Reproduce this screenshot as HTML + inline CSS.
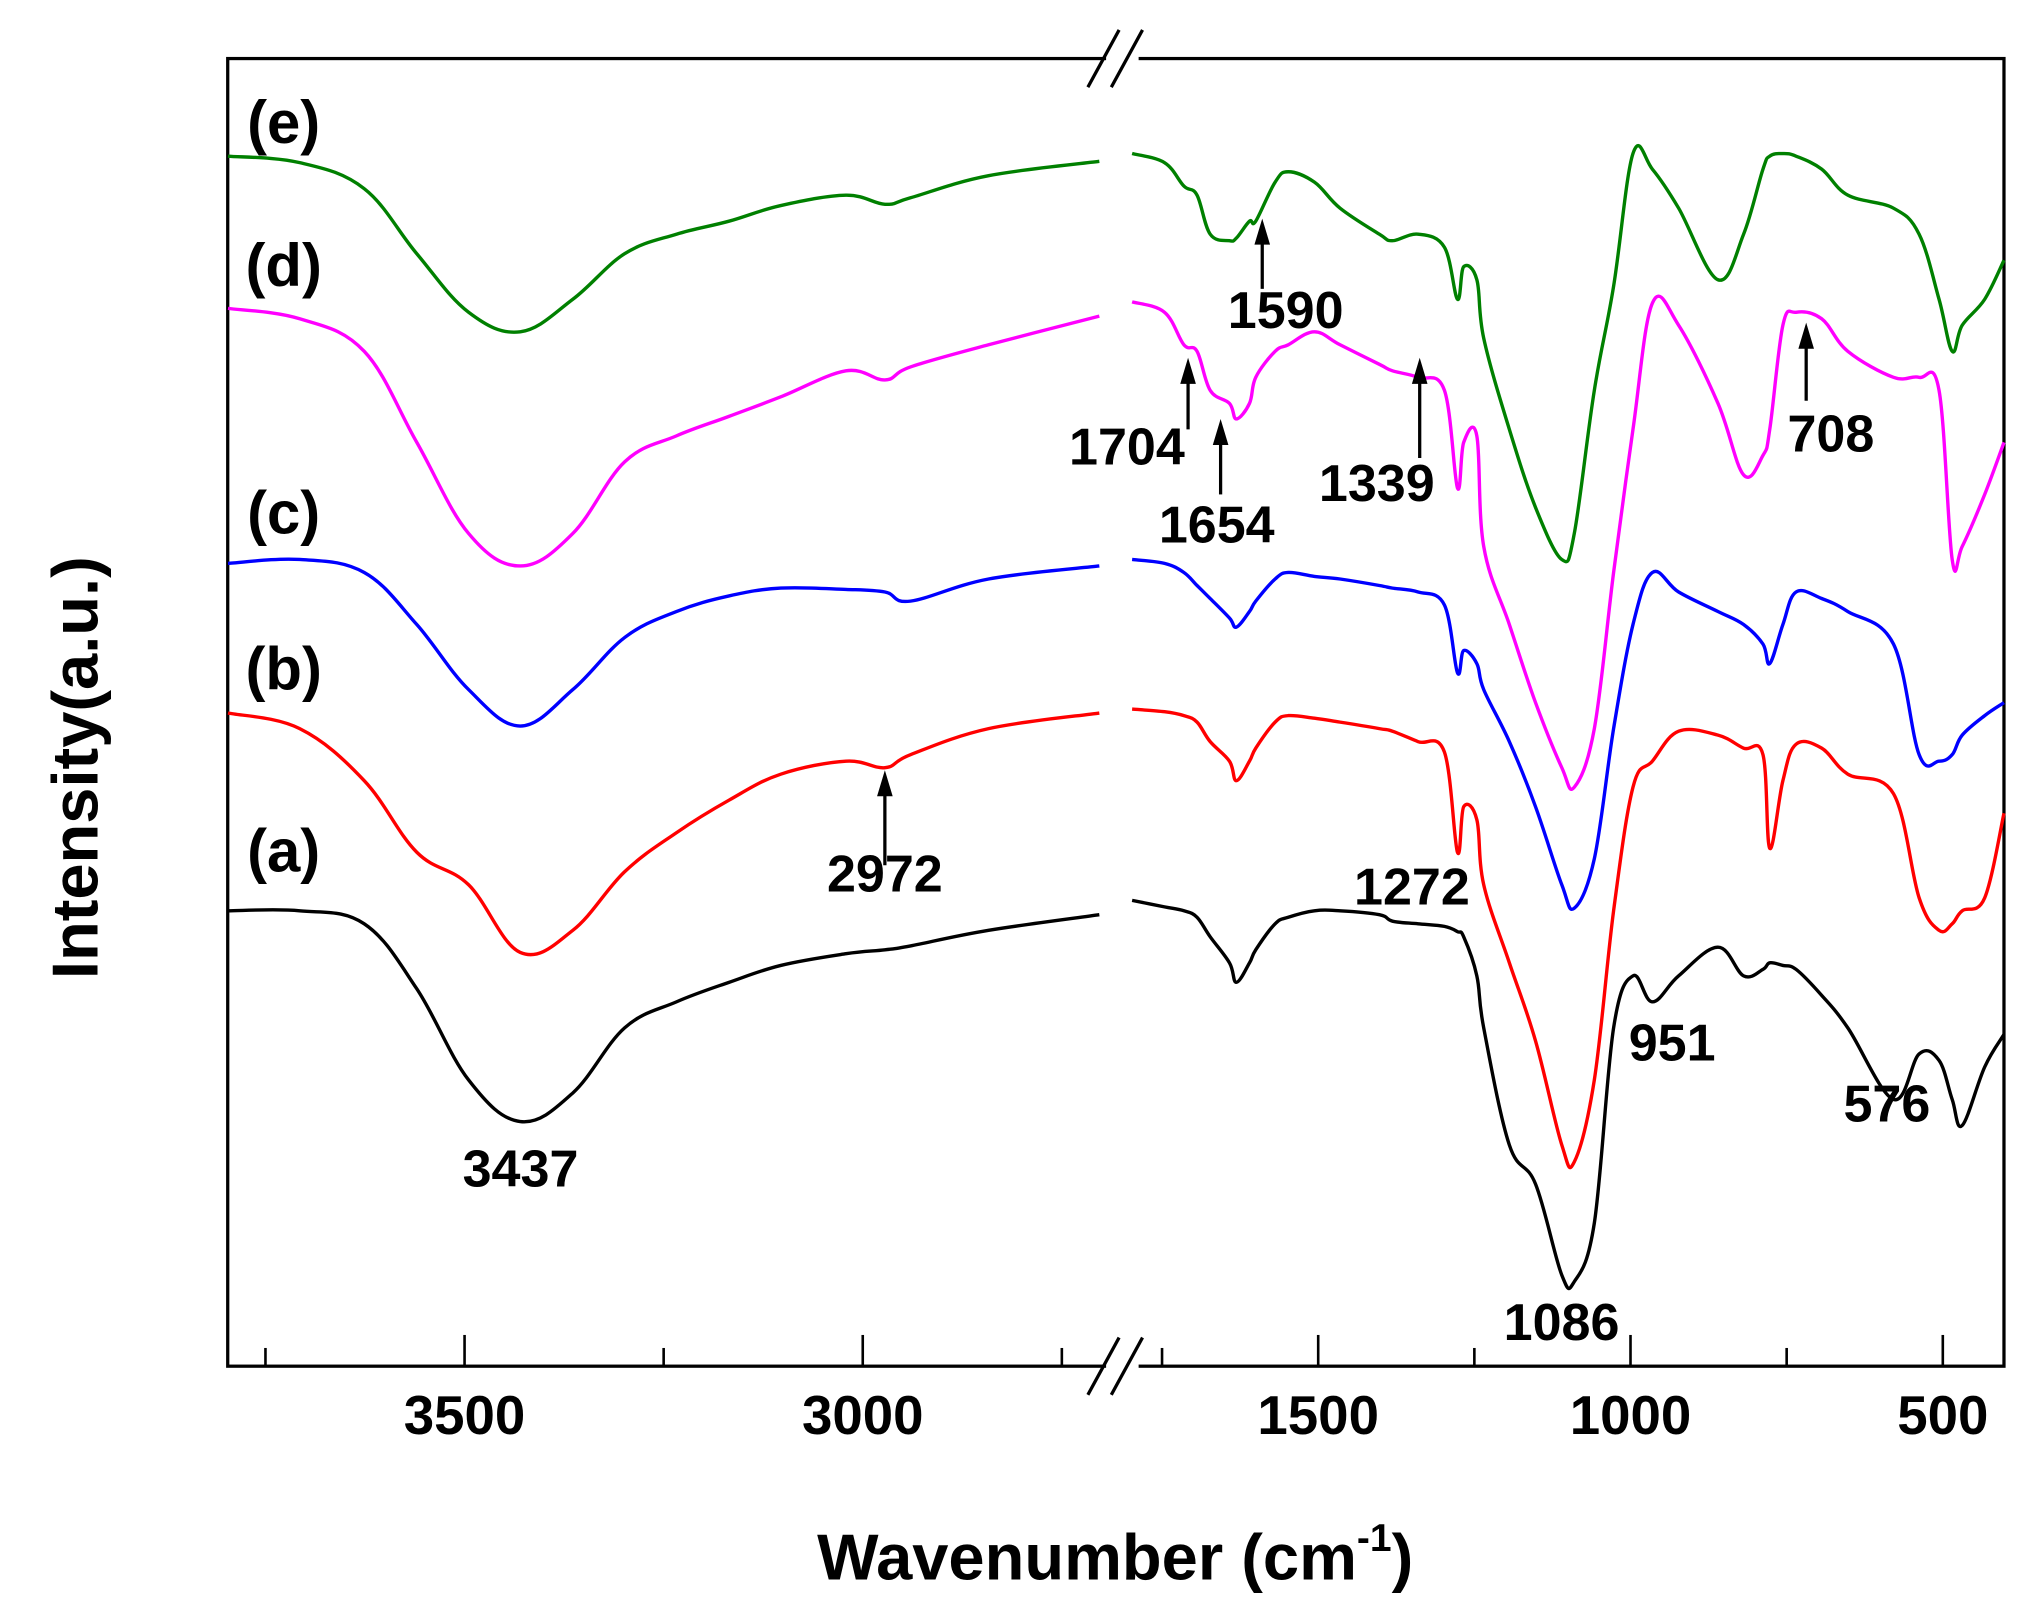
<!DOCTYPE html>
<html><head><meta charset="utf-8"><style>
html,body{margin:0;padding:0;background:#fff;}
svg{display:block;}
text{font-family:"Liberation Sans",Arial,sans-serif;font-weight:bold;fill:#000;}
</style></head><body>
<svg id="chart" width="2030" height="1616" viewBox="0 0 1560 1242" preserveAspectRatio="none" xmlns="http://www.w3.org/2000/svg">
<rect x="175" y="45" width="1365" height="1005" fill="none" stroke="#000" stroke-width="2.5"/>
<g id="breaks"></g>
<g id="ticks"></g>
<g id="series"></g>
<g id="annot"></g>
<text x="857" y="1214" font-size="50" text-anchor="middle">Wavenumber (cm<tspan dy="-22" font-size="30">-1</tspan><tspan dy="22">)</tspan></text>
<text x="0" y="0" font-size="50" text-anchor="middle" transform="translate(75,590) rotate(-90)">Intensity(a.u.)</text>
</svg>
<script>
const leftTicks=[3500,3000];
const rightTicks=[1500,1000,500];
const leftMinor=[3750,3250,2750];
const rightMinor=[1750,1250,750];
const seriesNames=['a','b','c','d','e'];
const seriesColors=['#000000','#ff0000','#0000ff','#ff00ff','#008000'];
const labelY=[655,515,395,205,95];
const leftW=[3797,3707,3626,3560,3495,3430,3364,3299,3234,3168,3103,3021,2972,2940,2842,2703];
const rightW=[1798,1746,1715,1694,1673,1642,1631,1610,1600,1569,1548,1506,1465,1402,1381,1340,1298,1277,1267,1246,1235,1194,1152,1110,1090,1058,1027,996,965,923,860,819,788,777,756,735,694,652,579,538,506,485,469,433,402];
const aLeft=[350,350,340,290,220,188,210,260,280,295,308,317,320,323,335,347];
const aRight=[358,353,350,345,330,310,295,310,320,340,345,350,350,347,342,340,338,334,330,300,260,170,140,70,65,110,260,300,280,300,322,300,305,310,308,305,285,260,205,240,235,205,185,230,255];
const bLeft=[502,490,450,395,370,318,335,380,410,435,455,465,460,470,490,502];
const bRight=[505,503,500,495,480,465,450,465,475,495,500,498,495,490,488,480,472,395,430,420,370,310,250,170,157,220,350,445,465,488,485,475,470,398,450,478,475,455,440,360,335,340,350,360,425];
const cLeft=[617,620,610,570,520,492,520,560,580,592,598,597,595,588,605,615];
const cRight=[620,617,610,600,590,575,568,580,588,605,610,607,605,600,598,595,585,533,550,540,520,480,430,370,352,390,490,570,610,595,580,570,555,540,570,595,590,580,555,470,465,470,485,500,510];
const dLeft=[813,805,780,710,640,615,640,695,715,730,745,765,758,768,785,807];
const dRight=[818,810,785,780,750,740,728,740,760,780,785,795,785,770,765,760,750,675,710,715,630,570,510,460,445,490,610,720,817,800,740,685,700,720,800,810,805,780,760,760,750,620,630,670,710];
const eLeft=[930,925,905,855,810,795,820,855,870,880,892,900,893,898,915,926];
const eRight=[932,925,907,900,870,865,867,880,880,910,918,910,890,870,865,870,860,820,845,835,790,720,660,620,640,750,830,932,920,890,835,870,920,930,932,930,920,900,890,870,820,780,800,820,850];
const leftData=[aLeft,bLeft,cLeft,dLeft,eLeft];
const rightData=[aRight,bRight,cRight,dRight,eRight];
const peakLabels=['3437','2972','1272','1086','951','576','1590','1704','1654','1339','708'];

const NS='http://www.w3.org/2000/svg';
function xL(w){return 357-(w-3500)*0.612;}
function xR(w){return 1013-(w-1500)*0.48;}
function yS(v){return 1050-v;}
function mk(tag,attrs,parent){const e=document.createElementNS(NS,tag);for(const k in attrs)e.setAttribute(k,attrs[k]);parent.appendChild(e);return e;}
function smooth(pts){
  let d='M'+pts[0][0].toFixed(1)+','+pts[0][1].toFixed(1);
  for(let i=0;i<pts.length-1;i++){
    const p0=pts[Math.max(0,i-1)],p1=pts[i],p2=pts[i+1],p3=pts[Math.min(pts.length-1,i+2)];
    const t=0.18;
    const c1x=p1[0]+(p2[0]-p0[0])*t,c1y=p1[1]+(p2[1]-p0[1])*t;
    const c2x=p2[0]-(p3[0]-p1[0])*t,c2y=p2[1]-(p3[1]-p1[1])*t;
    d+=' C'+c1x.toFixed(1)+','+c1y.toFixed(1)+' '+c2x.toFixed(1)+','+c2y.toFixed(1)+' '+p2[0].toFixed(1)+','+p2[1].toFixed(1);
  }
  return d;
}
const ticksG=document.getElementById('ticks');
function tick(x,len,label){
  const t=mk('line',{x1:x,x2:x,y1:1050,y2:1050-len,stroke:'#000','stroke-width':2},ticksG);
  
  
  if(label){const tx=mk('text',{x:x,y:1102,'font-size':42,'text-anchor':'middle'},ticksG);tx.textContent=label;
    
    }
}
leftTicks.forEach(w=>tick(xL(w),24,String(w)));
rightTicks.forEach(w=>tick(xR(w),24,String(w)));
leftMinor.forEach(w=>tick(xL(w),14,null));
rightMinor.forEach(w=>tick(xR(w),14,null));
const br=document.getElementById('breaks');
[45,1050].forEach(yy=>{
  const bg=mk('rect',{x:850,y:yy-4,width:25,height:8,fill:'#fff'},br);
  
  
  [848,866].forEach(x0=>{const l=mk('line',{x1:x0-12,y1:yy+22,x2:x0+12,y2:yy-22,stroke:'#000','stroke-width':2.5},br);
    
    });
});
const sg=document.getElementById('series');
seriesNames.forEach((n,i)=>{
  const pl=leftW.map((w,j)=>[xL(w),yS(leftData[i][j])]);
  const p1=mk('path',{d:smooth(pl),fill:'none',stroke:seriesColors[i],'stroke-width':2.6,'stroke-linejoin':'round'},sg);
  
  
  const pr=rightW.map((w,j)=>[xR(w),yS(rightData[i][j])]);
  const p2=mk('path',{d:smooth(pr),fill:'none',stroke:seriesColors[i],'stroke-width':2.6,'stroke-linejoin':'round'},sg);
  
  
  const t=mk('text',{x:218,y:labelY[i]+15,'font-size':46,'text-anchor':'middle'},sg);
  t.textContent='('+n+')';
  
  
});
const an=document.getElementById('annot');
const annPos=[[400,912,null],[680,685,680,665,592],[1085,695,null],[1200,1030,null],[1285,815,null],[1450,862,null],
 [988,252,970,222,168],[866,357,913,330,275],[935,417,938,380,322],[1058,385,1091,352,275],[1407,347,1388,308,248]];
peakLabels.forEach((lab,i)=>{
  const p=annPos[i];
  const t=mk('text',{x:p[0],y:p[1],'font-size':40,'text-anchor':'middle'},an);
  t.textContent=lab;
  
  
  if(p[2]!==null){
    const l=mk('line',{x1:p[2],x2:p[2],y1:p[3],y2:p[4]+14,stroke:'#000','stroke-width':2.5},an);
    
    
    const h=mk('polygon',{points:(p[2]-6)+','+(p[4]+20)+' '+(p[2]+6)+','+(p[4]+20)+' '+p[2]+','+p[4]},an);
    
    
  }
});
</script>
</body></html>
